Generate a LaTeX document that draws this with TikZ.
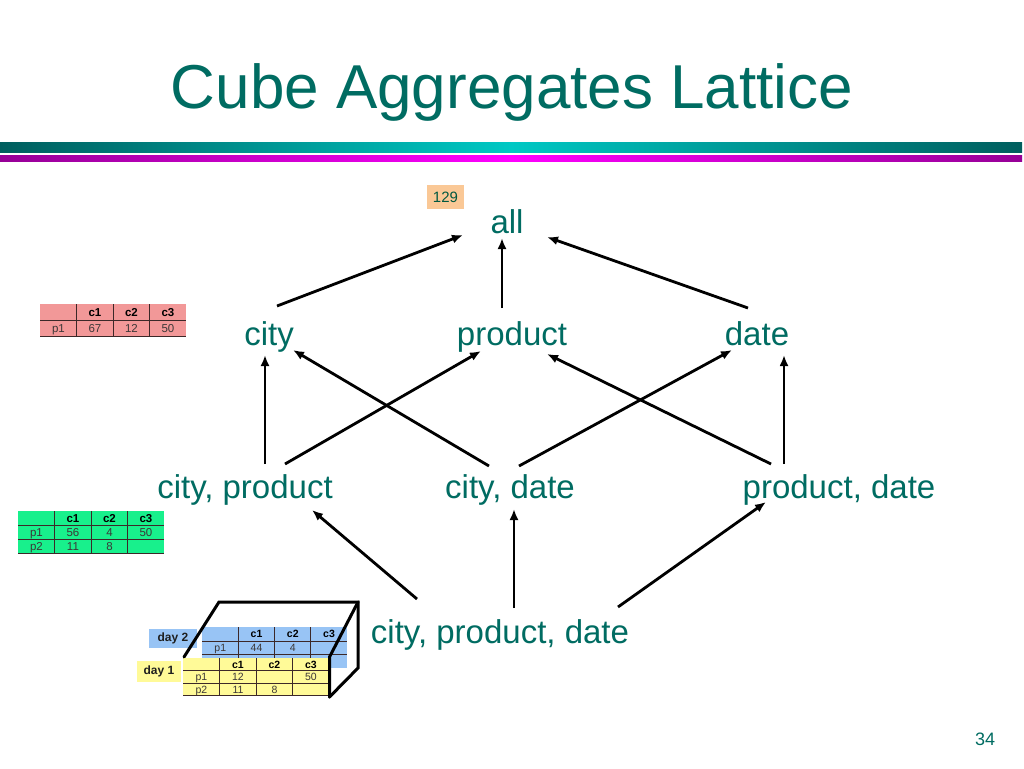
\documentclass[tikz,border=0pt]{standalone}
\usepackage{fontspec}
\setmainfont{Liberation Sans}
\usetikzlibrary{arrows.meta,calc,matrix}
\definecolor{ttxt}{RGB}{0,108,98}
\definecolor{tdark}{RGB}{0,94,94}
\definecolor{tbright}{RGB}{0,200,196}
\definecolor{mdark}{RGB}{150,0,150}
\definecolor{mbright}{RGB}{255,0,255}
\definecolor{pinkc}{RGB}{242,152,152}
\definecolor{greenc}{RGB}{24,240,140}
\definecolor{bluec}{RGB}{152,196,245}
\definecolor{yellowc}{RGB}{255,250,152}
\definecolor{peach}{RGB}{250,200,150}
\definecolor{gridc}{RGB}{60,40,40}
\definecolor{numc}{RGB}{0,88,64}
\definecolor{celltxt}{RGB}{60,55,55}
\begin{document}
\begin{tikzpicture}[x=1pt,y=-1pt,
  lat/.style={font=\fontsize{33}{38}\selectfont, text=ttxt, inner sep=0pt, anchor=base},
  arr/.style={line width=2.8pt, -{Latex[length=11pt,width=9pt]}},
  tbl/.style={matrix of nodes, nodes in empty cells, inner sep=0pt, column sep=0pt, row sep=0pt, anchor=north west},
  cellA/.style={inner sep=0pt, minimum width=36.5pt, text height=8pt, text depth=0pt, font=\fontsize{11.5}{12}\selectfont, text=celltxt},
  cellB/.style={inner sep=0pt, text height=7.5pt, text depth=0pt, font=\fontsize{10.5}{12}\selectfont, text=celltxt},
  hdrA/.style={nodes={font=\fontsize{11.5}{12}\selectfont\bfseries, text=black}},
  hdrB/.style={nodes={font=\fontsize{10.5}{12}\selectfont\bfseries, text=black}},
  tgrid/.style={draw=gridc, line width=0.8pt},
  cubeline/.style={line width=3pt, line cap=round, line join=miter},
  daylab/.style={font=\fontsize{12}{14}\selectfont\bfseries, text=black!88, inner sep=0pt}
]
\useasboundingbox (0,0) rectangle (1024,768);
\fill[white] (0,0) rectangle (1024,768);

% title and bars
\node[font=\fontsize{62}{70}\selectfont, text=ttxt, anchor=base, inner sep=0pt] (title) at (512,108) {Cube Aggregates Lattice};
\shade[left color=tdark, right color=tdark, middle color=tbright] (0,142.7) rectangle (1022,152);
\shade[left color=mdark, right color=mdark, middle color=mbright] (0,155) rectangle (1022,161);

% lattice nodes
\node[lat] (all) at (507,233) {all};
\node[lat] (city) at (269,345) {city};
\node[lat] (product) at (512,345) {product};
\node[lat] (date) at (757,345) {date};
\node[lat] (cp) at (245,498) {city, product};
\node[lat] (cd) at (510,498) {city, date};
\node[lat] (pd) at (839,498) {product, date};
\node[lat] (cpd) at (500,643) {city, product, date};

\node[fill=peach, minimum width=37pt, minimum height=24pt, inner sep=0pt, font=\fontsize{15}{16}\selectfont, text=numc] (cnt) at (445.5,197) {129};

% connectors
\draw[arr] ($(city.base)+(8,-39)$) -- ($(all.base)+(-44,2)$);
\draw[arr] ($(product.base)+(-10,-37)$) -- ($(all.base)+(-5,5)$);
\draw[arr] ($(date.base)+(-9,-37)$) -- ($(all.base)+(40,4)$);
\draw[arr] ($(cp.base)+(20,-34)$) -- ($(city.base)+(-4,10)$);
\draw[arr] ($(cp.base)+(40,-34)$) -- ($(product.base)+(-31,6)$);
\draw[arr] ($(cd.base)+(-21,-32)$) -- ($(city.base)+(24,5)$);
\draw[arr] ($(cd.base)+(9,-32)$) -- ($(date.base)+(-25,5)$);
\draw[arr] ($(pd.base)+(-68,-34)$) -- ($(product.base)+(35,9)$);
\draw[arr] ($(pd.base)+(-55,-34)$) -- ($(date.base)+(27,10)$);
\draw[arr] ($(cpd.base)+(-83,-44)$) -- ($(cp.base)+(67,12)$);
\draw[arr] ($(cpd.base)+(14,-35)$) -- ($(cd.base)+(4,11)$);
\draw[arr] ($(cpd.base)+(118,-36)$) -- ($(pd.base)+(-73,4)$);

% pink table
\matrix (pk) [tbl, fill=pinkc, nodes={cellA, minimum height=16pt}, row 1/.style={hdrA}] at (40,304) {
  & c1 & c2 & c3 \\
  p1 & 67 & 12 & 50 \\
};
\draw[tgrid] (pk-1-1.south west) -- (pk-1-4.south east);
\draw[tgrid] (pk-2-1.south west) -- (pk-2-4.south east);
\foreach \c in {2,3,4} \draw[tgrid] (pk-1-\c.north west) -- (pk-2-\c.south west);

% green table
\matrix (gr) [tbl, fill=greenc, nodes={cellA, minimum height=14pt}, row 1/.style={hdrA}] at (18,511) {
  & c1 & c2 & c3 \\
  p1 & 56 & 4 & 50 \\
  p2 & 11 & 8 & \\
};
\foreach \r in {1,2,3} \draw[tgrid] (gr-\r-1.south west) -- (gr-\r-4.south east);
\foreach \c in {2,3,4} \draw[tgrid] (gr-1-\c.north west) -- (gr-3-\c.south west);

% cube: day 2 (blue)
\node[daylab, fill=bluec, minimum width=48pt, minimum height=19pt] (d2) at (173,638) {day 2};
\matrix (bl) [tbl, fill=bluec, nodes={cellB, minimum width=36.25pt, minimum height=13.6pt}, row 1/.style={hdrB}] at (202,627) {
  & c1 & c2 & c3 \\
  p1 & 44 & 4 & \\
  & & & \\
};
\foreach \r in {1,2} \draw[tgrid] (bl-\r-1.south west) -- (bl-\r-4.south east);
\foreach \c in {2,3,4} \draw[tgrid] (bl-1-\c.north west) -- (bl-3-\c.south west);

% cube: day 1 (yellow)
\node[daylab, fill=yellowc, minimum width=44pt, minimum height=21pt] (d1) at (159,671.5) {day 1};
\matrix (yl) [tbl, fill=yellowc, nodes={cellB, minimum width=36.5pt, minimum height=12.45pt}, row 1/.style={hdrB}] at (183,658) {
  & c1 & c2 & c3 \\
  p1 & 12 & & 50 \\
  p2 & 11 & 8 & \\
};
\foreach \r in {1,2,3} \draw[tgrid] (yl-\r-1.south west) -- (yl-\r-4.south east);
\foreach \c in {2,3,4} \draw[tgrid] (yl-1-\c.north west) -- (yl-3-\c.south west);

% cube frame
\coordinate (cA) at (219,602);
\coordinate (cB) at (358,602);
\coordinate (cC) at (184,657);
\coordinate (cD) at (329.5,657);
\coordinate (cE) at (358,668);
\coordinate (cF) at (329.5,697);
\draw[cubeline] (cC) -- (cA) -- (cB) -- (cE) -- (cF);
\draw[cubeline] (cB) -- (cD) -- (cF);

% page number
\node[font=\fontsize{18}{20}\selectfont, text=ttxt, anchor=base, inner sep=0pt] (pg) at (985,745) {34};
\end{tikzpicture}
\end{document}
